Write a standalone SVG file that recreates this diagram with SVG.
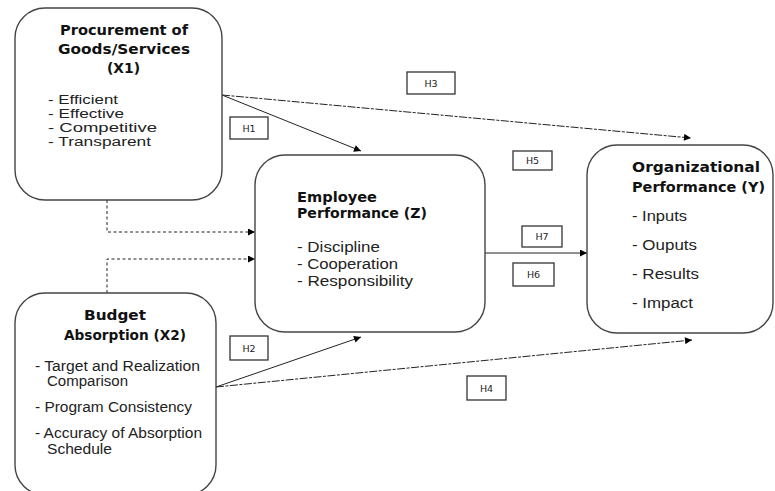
<svg xmlns="http://www.w3.org/2000/svg" width="775" height="491" viewBox="0 0 775 491">
  <defs>
    <marker id="ah" viewBox="0 0 10 10" refX="10" refY="5" markerWidth="9" markerHeight="7" markerUnits="userSpaceOnUse" orient="auto">
      <path d="M0,0 L10,5 L0,10 z" fill="#000"/>
    </marker>
  </defs>
  <style>
    .node { fill: #fff; stroke: #444; stroke-width: 1.4; }
    .title { font-family: "DejaVu Sans", Verdana, sans-serif; font-weight: bold; font-size: 13.5px; fill: #111; }
    .body { font-family: "Liberation Sans", Arial, sans-serif; font-size: 14px; fill: #222; }
    .tight { font-size: 12.5px; }
    .lbl { fill: #fff; stroke: #333; stroke-width: 1.3; }
    .lbltxt { font-family: "DejaVu Sans", Verdana, sans-serif; font-size: 9.5px; fill: #222; text-anchor: middle; }
    .edge { fill: none; stroke: #222; stroke-width: 1; marker-end: url(#ah); }
    .long { stroke-dasharray: 8 1.5 3 1.5; }
    .dot { stroke-dasharray: 3 2.5; }
  </style>
  <rect width="775" height="491" fill="#fff"/>

  <!-- connectors -->
  <g id="connectors">
    <line class="edge" x1="222" y1="95" x2="361" y2="151"/>
    <line class="edge long" x1="222" y1="95" x2="691" y2="138"/>
    <line class="edge" x1="216" y1="387" x2="361" y2="337"/>
    <line class="edge long" x1="216" y1="387" x2="692" y2="340"/>
    <line class="edge" x1="485" y1="253" x2="587" y2="253"/>
    <polyline class="edge dot" points="107,200 107,232 255,232"/>
    <polyline class="edge dot" points="107,293 107,259 255,259"/>
  </g>

  <!-- hypothesis labels -->
  <g id="labels">
    <g id="h1"><rect class="lbl" x="230" y="117" width="38" height="22"/><text class="lbltxt" x="249" y="131.5">H1</text></g>
    <g id="h3"><rect class="lbl" x="407" y="72" width="48" height="22"/><text class="lbltxt" x="431" y="86.5">H3</text></g>
    <g id="h5"><rect class="lbl" x="513" y="151" width="39" height="19"/><text class="lbltxt" x="532.5" y="164">H5</text></g>
    <g id="h7"><rect class="lbl" x="522" y="226" width="40" height="21"/><text class="lbltxt" x="542" y="240">H7</text></g>
    <g id="h6"><rect class="lbl" x="513" y="263" width="41" height="23"/><text class="lbltxt" x="533.5" y="278">H6</text></g>
    <g id="h2"><rect class="lbl" x="230" y="336" width="38" height="24"/><text class="lbltxt" x="249" y="351.5">H2</text></g>
    <g id="h4"><rect class="lbl" x="467" y="376" width="39" height="24"/><text class="lbltxt" x="486.5" y="391.5">H4</text></g>
  </g>

  <!-- X1 -->
  <g id="x1">
    <rect class="node" x="15" y="8" width="207" height="192" rx="30" ry="30"/>
    <text class="title" x="60" y="35" textLength="128" lengthAdjust="spacingAndGlyphs">Procurement of</text>
    <text class="title" x="58" y="54" textLength="132" lengthAdjust="spacingAndGlyphs">Goods/Services</text>
    <text class="title" x="107" y="73" textLength="33" lengthAdjust="spacingAndGlyphs">(X1)</text>
    <text class="body tight" x="48" y="104" textLength="70" lengthAdjust="spacingAndGlyphs">- Efficient</text>
    <text class="body tight" x="48" y="118" textLength="76" lengthAdjust="spacingAndGlyphs">- Effective</text>
    <text class="body tight" x="48" y="132" textLength="109" lengthAdjust="spacingAndGlyphs">- Competitive</text>
    <text class="body tight" x="48" y="146" textLength="103" lengthAdjust="spacingAndGlyphs">- Transparent</text>
  </g>

  <!-- Z -->
  <g id="z">
    <rect class="node" x="255" y="155" width="230" height="177" rx="30" ry="30"/>
    <text class="title" x="297" y="202" textLength="80" lengthAdjust="spacingAndGlyphs">Employee</text>
    <text class="title" x="297" y="218" textLength="130" lengthAdjust="spacingAndGlyphs">Performance (Z)</text>
    <text class="body" x="297" y="252" textLength="83" lengthAdjust="spacingAndGlyphs">- Discipline</text>
    <text class="body" x="297" y="269" textLength="101" lengthAdjust="spacingAndGlyphs">- Cooperation</text>
    <text class="body" x="297" y="286" textLength="116" lengthAdjust="spacingAndGlyphs">- Responsibility</text>
  </g>

  <!-- Y -->
  <g id="y">
    <rect class="node" x="587" y="145" width="186" height="188" rx="30" ry="30"/>
    <text class="title" x="632" y="172" textLength="128" lengthAdjust="spacingAndGlyphs">Organizational</text>
    <text class="title" x="632" y="192" textLength="133" lengthAdjust="spacingAndGlyphs">Performance (Y)</text>
    <text class="body" x="632" y="221" textLength="55" lengthAdjust="spacingAndGlyphs">- Inputs</text>
    <text class="body" x="632" y="250" textLength="65" lengthAdjust="spacingAndGlyphs">- Ouputs</text>
    <text class="body" x="632" y="279" textLength="67" lengthAdjust="spacingAndGlyphs">- Results</text>
    <text class="body" x="632" y="308" textLength="61" lengthAdjust="spacingAndGlyphs">- Impact</text>
  </g>

  <!-- X2 -->
  <g id="x2">
    <rect class="node" x="15" y="293" width="201" height="202" rx="30" ry="30"/>
    <text class="title" x="84" y="320" textLength="62" lengthAdjust="spacingAndGlyphs">Budget</text>
    <text class="title" x="64" y="340" textLength="122" lengthAdjust="spacingAndGlyphs">Absorption (X2)</text>
    <text class="body" x="35" y="371" textLength="165" lengthAdjust="spacingAndGlyphs">- Target and Realization</text>
    <text class="body" x="47" y="386" textLength="81" lengthAdjust="spacingAndGlyphs">Comparison</text>
    <text class="body" x="35" y="412" textLength="157" lengthAdjust="spacingAndGlyphs">- Program Consistency</text>
    <text class="body" x="35" y="438" textLength="167" lengthAdjust="spacingAndGlyphs">- Accuracy of Absorption</text>
    <text class="body" x="47" y="454" textLength="65" lengthAdjust="spacingAndGlyphs">Schedule</text>
  </g>
</svg>
